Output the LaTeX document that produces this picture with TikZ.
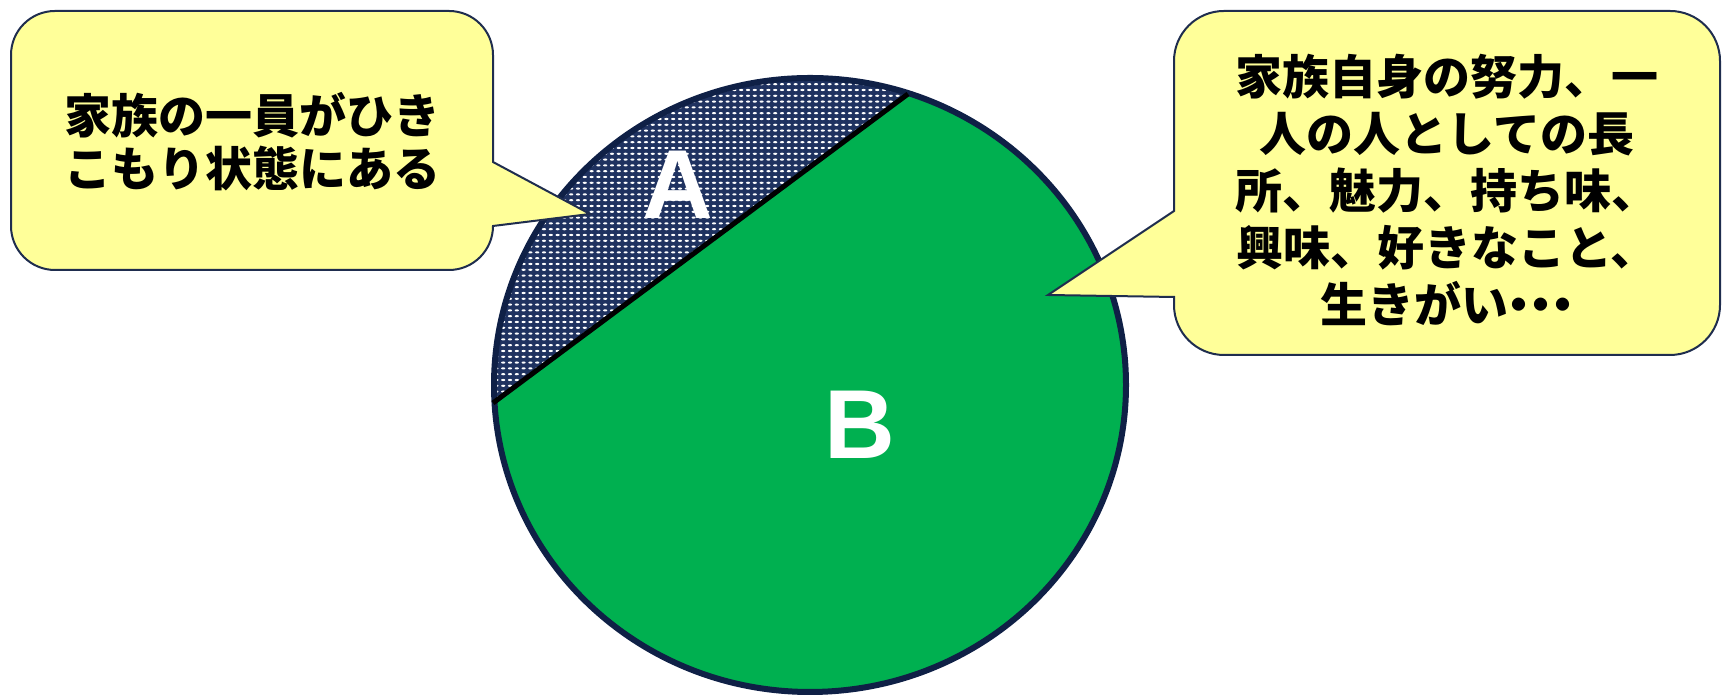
\documentclass[tikz,border=0pt]{standalone}
\usepackage{fontspec}
\setmainfont{Liberation Sans}
\newfontfamily\cjk{Noto Sans CJK JP}
\usetikzlibrary{patterns}
\pgfdeclarepatternformonly{whitedots}{\pgfqpoint{-1.2pt}{-1pt}}{\pgfqpoint{1.2pt}{1pt}}{\pgfqpoint{3.4pt}{2.9pt}}{%
  \pgfpathellipse{\pgfpointorigin}{\pgfqpoint{1.05pt}{0pt}}{\pgfqpoint{0pt}{0.55pt}}\pgfusepath{fill}}
\definecolor{navyborder}{RGB}{15,32,70}
\definecolor{navyfill}{RGB}{31,50,96}
\definecolor{piegreen}{RGB}{0,176,80}
\definecolor{calloutfill}{RGB}{255,255,153}
\definecolor{calloutborder}{RGB}{31,45,78}
\newcommand{\smalldot}{\makebox[0.46em]{・}}
\tikzset{
  callout/.style={fill=calloutfill, draw=calloutborder, line width=1pt, line join=miter},
  bigletter/.style={text=white, font=\bfseries\fontsize{49}{49}\selectfont},
  calltext/.style={align=center, text=black, font=\cjk\bfseries\fontsize{23.5}{#1}\selectfont},
}
\begin{document}
\begin{tikzpicture}[x=0.5pt,y=0.5pt]
\useasboundingbox (0,0) rectangle (1725,699);
% pie
\coordinate (c) at (810,314);
\fill[piegreen] (c) ellipse[x radius=158pt, y radius=153.5pt];
\begin{scope}
  \clip (c) ellipse[x radius=158pt, y radius=153.5pt];
  \fill[navyfill] (300,152) -- (1000,674) -- (1000,800) -- (300,800) -- cycle;
  \fill[pattern=whitedots, pattern color=white] (300,152) -- (1000,674) -- (1000,800) -- (300,800) -- cycle;
\end{scope}
\draw[navyborder, line width=3pt] (c) ellipse[x radius=158pt, y radius=153.5pt];
\coordinate (chordL) at (493,296);
\coordinate (chordU) at (908,605);
\draw[black, line width=2.5pt] (chordL) -- (chordU);
\node[bigletter] (A) at (678,514) {A};
\node[bigletter] (B) at (860,274) {B};
% left callout
\draw[callout] (55,688) -- (449,688) arc[start angle=90,end angle=0,radius=22pt]
  -- (493,537) -- (590,485) -- (493,473)
  arc[start angle=0,end angle=-90,radius=22pt] -- (55,429)
  arc[start angle=270,end angle=180,radius=22pt] -- (11,644)
  arc[start angle=180,end angle=90,radius=22pt] -- cycle;
\node[calltext=26.5] (lt) at (252,557) {家族の一員がひき\\こもり状態にある};
% right callout
\draw[callout] (1224,688) -- (1670,688) arc[start angle=90,end angle=0,radius=25pt]
  -- (1720,394) arc[start angle=0,end angle=-90,radius=25pt]
  -- (1224,344) arc[start angle=270,end angle=180,radius=25pt]
  -- (1174,402) -- (1048,404) -- (1174,488)
  -- (1174,638) arc[start angle=180,end angle=90,radius=25pt] -- cycle;
\node[calltext=28.5] (rt) at (1447,509) {家族自身の努力、一\\人の人としての長\\所、魅力、持ち味、\\興味、好きなこと、\\生きがい\smalldot\smalldot\smalldot};
\end{tikzpicture}
\end{document}
